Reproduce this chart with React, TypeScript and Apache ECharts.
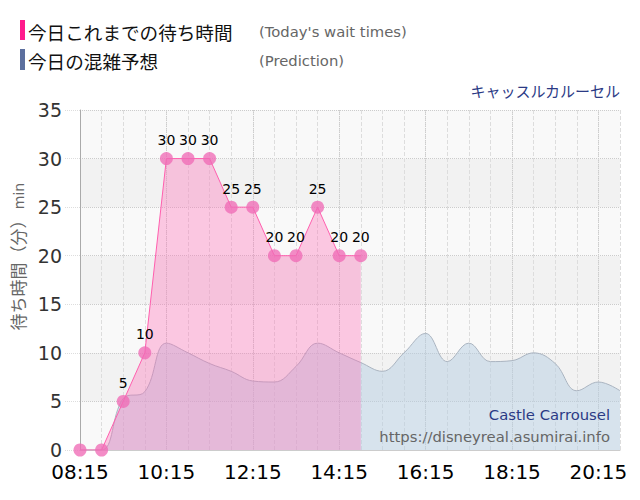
import React, { useEffect, useRef } from 'react';
import * as echarts from 'echarts';

// 時間軸 (30分刻み)
const times = [
  '08:15', '08:45', '09:15', '09:45', '10:15', '10:45', '11:15', '11:45',
  '12:15', '12:45', '13:15', '13:45', '14:15', '14:45', '15:15', '15:45',
  '16:15', '16:45', '17:15', '17:45', '18:15', '18:45', '19:15', '19:45',
  '20:15', '20:45',
];

// 今日これまでの待ち時間
const waitTimes = [0, 0, 5, 10, 30, 30, 30, 25, 25, 20, 20, 25, 20, 20];

// 今日の混雑予想
const prediction = [
  0, 0, 5.3, 6, 11, 10, 8.9, 8.1, 7.1, 7.0, 8.6, 11, 10, 9,
  8.1, 10, 12, 9.1, 11, 9.1, 9.2, 10, 8.9, 6.1, 7, 6.1,
];

const yTicks = [0, 5, 10, 15, 20, 25, 30, 35];

const JP = '"Noto Sans CJK JP", sans-serif';
const EN = '"DejaVu Sans", sans-serif';

function App() {
  const chartRef = useRef<HTMLDivElement>(null);

  useEffect(() => {
    document.body.style.margin = '0';
    if (!chartRef.current) return undefined;

    const option = {
      animation: false,
      backgroundColor: '#ffffff',
      textStyle: { fontFamily: EN },
      grid: { left: 80, right: 20, top: 110, bottom: 50 },
      xAxis: [
        {
          type: 'category',
          data: times,
          boundaryGap: false,
          axisLine: { lineStyle: { color: '#cccccc' } },
          axisTick: { show: false },
          axisLabel: {
            interval: 3,
            fontSize: 20,
            color: '#000000',
            margin: 12,
            fontFamily: EN,
          },
          splitLine: {
            show: true,
            interval: 0,
            lineStyle: { color: '#dddddd', type: 'dashed' },
          },
        },
        {
          // ラベル位置の縦線 (点線)
          type: 'category',
          data: times,
          boundaryGap: false,
          position: 'bottom',
          axisLine: { show: false },
          axisTick: { show: false },
          axisLabel: { show: false },
          splitLine: {
            show: true,
            interval: 3,
            lineStyle: { color: '#cccccc', type: 'dotted' },
          },
        },
      ],
      yAxis: {
        type: 'value',
        min: yTicks[0],
        max: yTicks[yTicks.length - 1],
        interval: 5,
        axisLine: { show: true, lineStyle: { color: '#aaaaaa' } },
        axisTick: {
          show: true,
          length: 15,
          lineStyle: { color: '#dddddd', type: 'dotted' },
        },
        axisLabel: { fontSize: 19, color: '#333333', margin: 18, fontFamily: EN },
        splitLine: { lineStyle: { color: '#cccccc', type: 'dotted' } },
        splitArea: { show: true, areaStyle: { color: ['#f9f9f9', '#f2f2f2'] } },
      },
      series: [
        {
          name: '今日の混雑予想',
          type: 'line',
          data: prediction,
          smooth: 0.4,
          symbol: 'none',
          lineStyle: { color: '#aab4c0', width: 1 },
          areaStyle: { color: '#b5cde1', opacity: 0.5 },
          z: 2,
        },
        {
          name: '今日これまでの待ち時間',
          type: 'line',
          data: waitTimes,
          symbol: 'circle',
          symbolSize: 13,
          itemStyle: { color: '#f06cb6', opacity: 0.78 },
          lineStyle: { color: '#ff5fae', width: 1 },
          areaStyle: { color: '#ff69b4', opacity: 0.35 },
          label: {
            show: true,
            position: 'top',
            distance: 5,
            fontSize: 14,
            color: '#000000',
            opacity: 1,
            fontFamily: EN,
            formatter: (p: { value: number }) => (p.value === 0 ? '' : String(p.value)),
          },
          z: 3,
        },
      ],
      graphic: [
        { type: 'rect', shape: { x: 20, y: 20, width: 5, height: 20 }, style: { fill: '#ff1a8c' } },
        { type: 'rect', shape: { x: 20, y: 49, width: 5, height: 21 }, style: { fill: '#5c6f9e' } },
        {
          type: 'text', x: 28, y: 31,
          style: { text: '今日これまでの待ち時間', fontSize: 18.6, fill: '#111111', fontFamily: JP, verticalAlign: 'middle' },
        },
        {
          type: 'text', x: 259, y: 31,
          style: { text: "(Today's wait times)", fontSize: 14.8, fill: '#666666', fontFamily: EN, verticalAlign: 'middle' },
        },
        {
          type: 'text', x: 28, y: 60,
          style: { text: '今日の混雑予想', fontSize: 18.6, fill: '#111111', fontFamily: JP, verticalAlign: 'middle' },
        },
        {
          type: 'text', x: 259, y: 60,
          style: { text: '(Prediction)', fontSize: 14.8, fill: '#666666', fontFamily: EN, verticalAlign: 'middle' },
        },
        {
          type: 'text', x: 620, y: 90,
          style: { text: 'キャッスルカルーセル', fontSize: 15, fill: '#2b3a85', fontFamily: JP, align: 'right', verticalAlign: 'middle' },
        },
        {
          type: 'text', x: 17, y: 271, rotation: Math.PI / 2,
          style: { text: '待ち時間（分）', fontSize: 17, fill: '#666666', fontFamily: JP, align: 'center', verticalAlign: 'middle' },
        },
        {
          type: 'text', x: 19, y: 196, rotation: Math.PI / 2,
          style: { text: 'min', fontSize: 14, fill: '#666666', fontFamily: EN, align: 'center', verticalAlign: 'middle' },
        },
        {
          type: 'text', x: 610, y: 414, z: 10,
          style: { text: 'Castle Carrousel', fontSize: 14.8, fill: '#2b3a85', fontFamily: EN, align: 'right', verticalAlign: 'middle' },
        },
        {
          type: 'text', x: 610, y: 436, z: 10,
          style: { text: 'https://disneyreal.asumirai.info', fontSize: 14.8, fill: '#666666', fontFamily: EN, align: 'right', verticalAlign: 'middle' },
        },
      ],
    };

    const myChart = echarts.init(chartRef.current, null, { renderer: 'svg' });
    myChart.setOption(option);

    return () => {
      myChart.dispose();
    };
  }, []);

  return <div ref={chartRef} style={{ width: '640px', height: '500px' }} />;
}

export default App;
